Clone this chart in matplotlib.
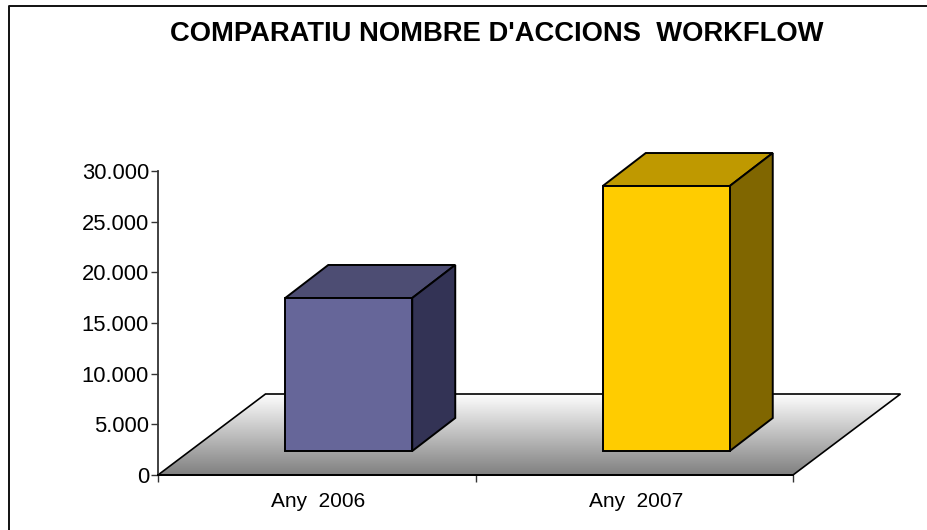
# Comparatiu nombre d'accions workflow - 3D style columns drawn by hand

import matplotlib
matplotlib.use("Agg")
import matplotlib.pyplot as plt
import numpy as np
from matplotlib.lines import Line2D
from matplotlib.patches import Polygon

categories = ["Any  2006", "Any  2007"]
values = [15100, 26150]
y_ticks = [0, 5000, 10000, 15000, 20000, 25000, 30000]
y_labels = ["0", "5.000", "10.000", "15.000", "20.000", "25.000", "30.000"]

plt.rcParams['font.family'] = ['Liberation Sans', 'DejaVu Sans']

W, H = 927, 530
fig = plt.figure(figsize=(W / 100, H / 100), dpi=100)

# only the top and left of the frame are inside the picture
fig.add_artist(Line2D([W / W, 8.5 / W, 8.5 / W], [1 - 5.5 / H, 1 - 5.5 / H, 0],
                      transform=fig.transFigure, color="#111111", linewidth=1.4))

ax = fig.add_axes([158 / W, 1 - 475 / H, 635 / W, 304 / H])
ax.set_xlim(0, 2)
ax.set_ylim(0, 30000)
ax.patch.set_alpha(0)

# pixel sizes in data units
px_x = 2 / 635
px_y = 30000 / 304

# floor
fx, fy = 107.5 * px_x, 81 * px_y
floor = Polygon([(0, 0), (fx, fy), (2 + fx, fy), (2, 0)], closed=True, facecolor="none",
                edgecolor="black", linewidth=1.2, clip_on=False, zorder=1)
ax.add_patch(floor)
grad = np.linspace(1, 0.5, 256).reshape(-1, 1)
im = ax.imshow(grad, cmap="gray", vmin=0, vmax=1, aspect="auto",
               extent=(0, 2 + fx, 0, fy), zorder=0.5)
im.set_clip_box(fig.bbox)
im.set_clip_path(floor)
ax.set_xlim(0, 2)
ax.set_ylim(0, 30000)

# columns
width = 127 * px_x
dx, dy = 43 * px_x, 33 * px_y
base = 24 * px_y
shift = 32 * px_x
front_cols = ["#666699", "#FFCC00"]
top_cols = ["#4D4D73", "#BF9900"]
side_cols = ["#333355", "#806600"]

for i, v in enumerate(values):
    x0 = i + 0.5 - width / 2 + shift
    x1 = x0 + width
    y1 = base + v
    ax.add_patch(Polygon([(x0, y1), (x0 + dx, y1 + dy), (x1 + dx, y1 + dy), (x1, y1)],
                         facecolor=top_cols[i], edgecolor="black", linewidth=1.4,
                         clip_on=False, zorder=3))
    ax.add_patch(Polygon([(x1, base), (x1 + dx, base + dy), (x1 + dx, y1 + dy), (x1, y1)],
                         facecolor=side_cols[i], edgecolor="black", linewidth=1.4,
                         clip_on=False, zorder=3))
    ax.bar(x0 + width / 2, v, width=width, bottom=base, color=front_cols[i],
           edgecolor="black", linewidth=1.4, clip_on=False, zorder=4)

# axes
for s in ["top", "right"]:
    ax.spines[s].set_visible(False)
ax.spines["left"].set_color("#333333")
ax.spines["left"].set_linewidth(1.3)
ax.spines["bottom"].set_color("black")
ax.spines["bottom"].set_linewidth(1.4)
ax.set_yticks(y_ticks)
ax.set_yticklabels(y_labels, fontsize=15.8, color="black")
ax.tick_params(axis="y", length=5, width=1, color="#333333", pad=1.5)
ax.set_xticks([0, 1, 2])
ax.set_xticklabels([])
ax.tick_params(axis="x", length=5, width=1, color="#333333")
for i, c in enumerate(categories):
    ax.text(i + 0.505, -2600, c, ha="center", va="center", fontsize=15, color="black")

fig.text(497 / W, 1 - 34 / H, "COMPARATIU NOMBRE D'ACCIONS  WORKFLOW", ha="center", va="center",
         fontsize=19.7, fontweight="bold", color="black")

fig.savefig("out.png", dpi=100)
